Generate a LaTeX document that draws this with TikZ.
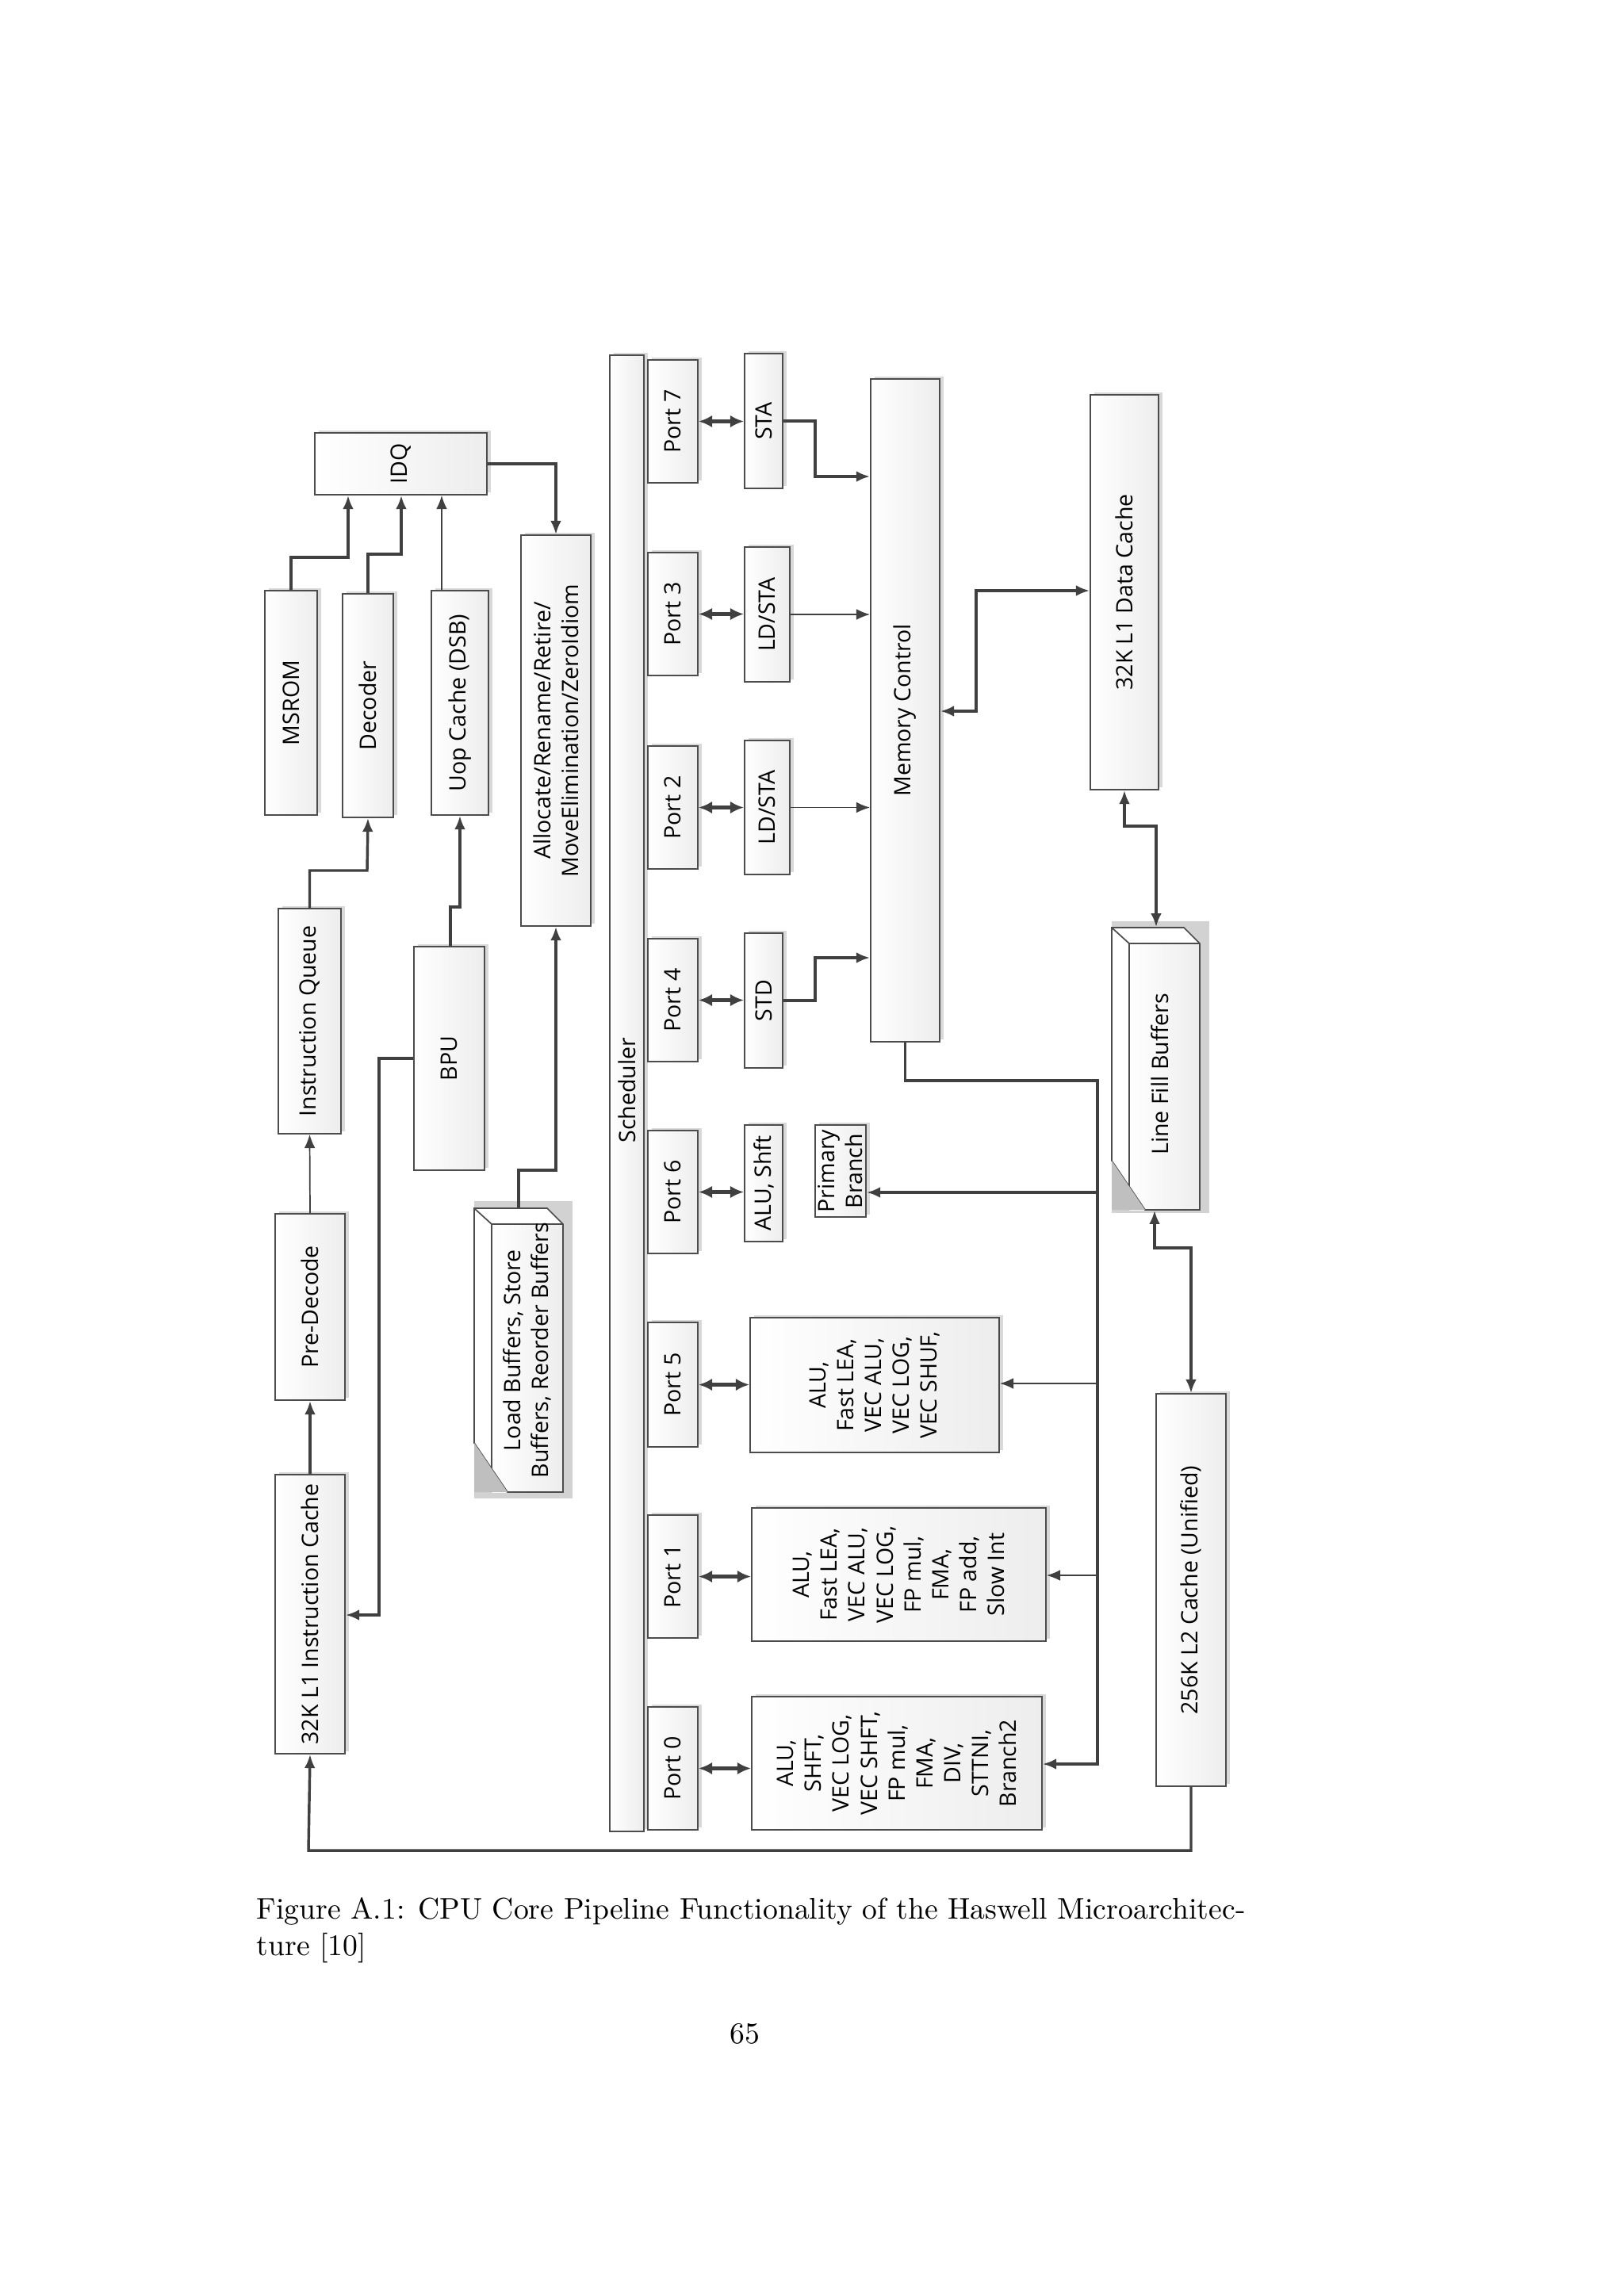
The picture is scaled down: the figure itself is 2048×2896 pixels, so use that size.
\documentclass[tikz,border=0pt]{standalone}
\usepackage{fontspec}
\newfontfamily\dg{Open Sans}
\usetikzlibrary{arrows.meta,shadows,fit,calc}
\begin{document}
\begin{tikzpicture}[x=0.2907pt,y=-0.2907pt,
  box/.style={draw=black!70,line width=0.5pt,left color=white,right color=gray!14,
    general shadow={fill=gray!30,shadow xshift=1.4pt,shadow yshift=1.0pt},inner sep=0pt},
  lbl/.style={rotate=90,align=center,font=\dg\fontsize{8.3}{10.2}\selectfont,text=black},
  thk/.style={line width=1pt,draw=black!75,-{Latex[length=5pt,width=4pt]}},
  thn/.style={line width=0.5pt,draw=black!75,-{Latex[length=5pt,width=4pt]}},
  dbl/.style={line width=1.2pt,draw=black!75,{Latex[length=5pt,width=4.5pt]}-{Latex[length=5pt,width=4.5pt]}},
  dblb/.style={line width=1pt,draw=black!75,{Latex[length=5pt,width=4pt]}-{Latex[length=5pt,width=4pt]}}]
\useasboundingbox (0,0) rectangle (2048,2896);
\fill[white] (0,0) rectangle (2048,2896);
\newcommand\blk[6]{\node[box,fit={(#2,#3)(#4,#5)}] (#1) {}; \node[lbl] at (#1) {#6};}
\blk{idq}{397}{546}{614}{624}{IDQ}
\blk{msrom}{334}{745}{400}{1028}{MSROM}
\blk{dec}{432}{749}{496}{1031}{Decoder}
\blk{uop}{544}{745}{616}{1028}{Uop Cache (DSB)}
\blk{alloc}{657}{675}{745}{1168}{Allocate/Rename/Retire/\\MoveElimination/ZeroIdiom}
\blk{iq}{351}{1146}{430}{1430}{Instruction Queue}
\blk{bpu}{522}{1194}{611}{1476}{BPU}
\blk{pre}{347}{1531}{435}{1766}{Pre-Decode}
\blk{l1i}{347}{1860}{435}{2212}{32K L1 Instruction Cache}
\node[box,fit={(769,448)(812,2310)}] (sch) {};
\node[lbl] at (791,1375) {Scheduler};
\blk{p7}{817}{454}{880}{609}{Port 7}
\blk{p3}{817}{697}{880}{852}{Port 3}
\blk{p2}{817}{941}{880}{1096}{Port 2}
\blk{p4}{817}{1184}{880}{1339}{Port 4}
\blk{p6}{817}{1426}{880}{1581}{Port 6}
\blk{p5}{817}{1668}{880}{1825}{Port 5}
\blk{p1}{817}{1911}{880}{2066}{Port 1}
\blk{p0}{817}{2153}{880}{2308}{Port 0}
\blk{sta}{939}{446}{987}{616}{STA}
\blk{ls3}{939}{690}{996}{860}{LD/STA}
\blk{ls2}{939}{934}{996}{1103}{LD/STA}
\blk{std}{939}{1177}{987}{1347}{STD}
\blk{u6}{939}{1419}{987}{1566}{ALU, Shft}
\blk{pb}{1028}{1419}{1092}{1535}{Primary\\Branch}
\blk{u5}{946}{1662}{1260}{1832}{ALU,\\Fast LEA,\\VEC ALU,\\VEC LOG,\\VEC SHUF,}
\blk{u1}{948}{1902}{1319}{2070}{ALU,\\Fast LEA,\\VEC ALU,\\VEC LOG,\\FP mul,\\FMA,\\FP add,\\Slow Int}
\blk{u0}{948}{2140}{1314}{2308}{ALU,\\SHFT,\\VEC LOG,\\VEC SHFT,\\FP mul,\\FMA,\\DIV,\\STTNI,\\Branch2}
\blk{mc}{1098}{478}{1185}{1314}{Memory Control}
\blk{dc}{1375}{498}{1461}{996}{32K L1 Data Cache}
\blk{l2}{1458}{1758}{1546}{2253}{256K L2 Cache (Unified)}
% 3D boxes
\node[fit={(598,1524)(710,1882)},inner sep=0pt] (lb) {};
\fill[gray!35] (598,1515) -- (722,1515) -- (722,1890) -- (598,1890) -- cycle;
\fill[white] (598,1524) -- (690,1524) -- (710,1544) -- (710,1882) -- (640,1882) -- (598,1820) -- cycle;
\shade[left color=white,right color=gray!14] (620,1544) rectangle (710,1882);
\draw[black!70,line width=0.5pt] (598,1524) -- (690,1524) -- (710,1544) -- (710,1882) -- (640,1882) -- (598,1820) -- cycle
  (598,1524) -- (620,1544) -- (710,1544) (620,1544) -- (620,1882);
\fill[gray!50] (598,1820) -- (640,1882) -- (598,1882) -- cycle;
\node[lbl] at (665,1703) {Load Buffers, Store\\Buffers, Reorder Buffers};
\node[fit={(1402,1170)(1513,1526)},inner sep=0pt] (lfb) {};
\fill[gray!35] (1402,1162) -- (1525,1162) -- (1525,1530) -- (1402,1530) -- cycle;
\fill[white] (1402,1170) -- (1493,1170) -- (1513,1190) -- (1513,1526) -- (1444,1526) -- (1402,1464) -- cycle;
\shade[left color=white,right color=gray!14] (1424,1190) rectangle (1513,1526);
\draw[black!70,line width=0.5pt] (1402,1170) -- (1493,1170) -- (1513,1190) -- (1513,1526) -- (1444,1526) -- (1402,1464) -- cycle
  (1402,1170) -- (1424,1190) -- (1513,1190) (1424,1190) -- (1424,1526);
\fill[gray!50] (1402,1464) -- (1444,1526) -- (1402,1526) -- cycle;
\node[lbl] at (1463,1355) {Line Fill Buffers};
% connectors
\draw[thk] (msrom.north) |- (439,703) -- (439,0 |- idq.south);
\draw[thk] (dec.north) |- (506,699) -- (506,0 |- idq.south);
\draw[thn] (557,0 |- uop.north) -- (557,0 |- idq.south);
\draw[thk] (idq.east) -| (alloc.north);
\draw[thk] (iq.north) |- (463,1098) -- (dec.south);
\draw[thk] (568,0 |- bpu.north) -- (568,1144) -| (uop.south);
\draw[thn] (pre.north) -- (iq.south);
\draw[thk] (l1i.north) -- (pre.south);
\draw[thk] (bpu.west) -- (478,1335) -- (478,2037) -- (l1i.east |- 0,2037);
\draw[thk] (654,0 |- lb.north) |- (701,1476) -- (alloc.south);
\foreach \p/\u in {p7/sta,p3/ls3,p2/ls2,p4/std,p6/u6,p5/u5,p1/u1,p0/u0}
  \draw[dbl] (\p.east) -- (\p.east -| \u.west);
\draw[thk] (sta.east) -| (1028,601) -- (mc.west |- 0,601);
\draw[thn] (ls3.east) -- (mc.west |- ls3.east);
\draw[thn] (ls2.east) -- (mc.west |- ls2.east);
\draw[thk] (std.east) -| (1028,1208) -- (mc.west |- 0,1208);
\draw[dblb] (mc.east |- 0,897) -| (1231,745) -- (dc.west |- 0,745);
\draw[dblb] (1418,0 |- dc.south) |- (1458,1042) -- (1458,0 |- lfb.north);
\draw[dblb] (1456,0 |- lfb.south) |- (1502,1574) -- (l2.north);
\draw[thk] (mc.south) |- (1384,1363) -- (1384,2225) -- (u0.east |- 0,2225);
\draw[thk] (1384,1504) -- (pb.east |- 0,1504);
\draw[thn] (1384,1745) -- (u5.east |- 0,1745);
\draw[thn] (1384,1987) -- (u1.east |- 0,1987);
\draw[thk] (l2.south) |- (389,2334) -- (l1i.south);
% caption
\node[anchor=base west,inner sep=0pt,font=\fontsize{10.95}{13}\selectfont] (cap1) at (323,2420) {Figure A.1: CPU Core Pipeline Functionality of the Haswell Microarchitec-};
\node[anchor=base west,inner sep=0pt,font=\fontsize{10.95}{13}\selectfont] (cap2) at (323,2466) {ture [10]};
\node[anchor=base,inner sep=0pt,font=\fontsize{10.95}{13}\selectfont] (pg) at (939,2577) {65};
\end{tikzpicture}
\end{document}
